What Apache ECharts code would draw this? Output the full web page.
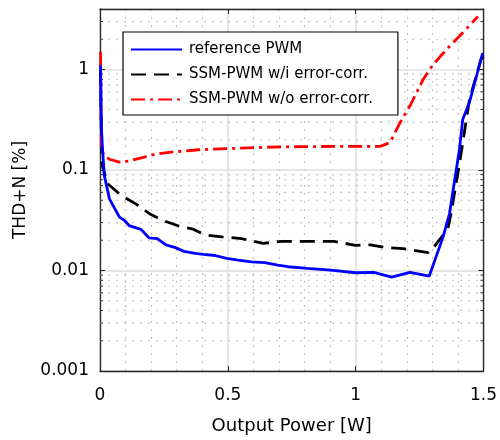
<!DOCTYPE html>
<html>
<head>
<meta charset="utf-8">
<script src="https://cdn.jsdelivr.net/npm/echarts@6/dist/echarts.min.js"></script>
<style>
  html, body { margin: 0; padding: 0; background: #fff; }
  #chart { width: 500px; height: 440px; }
</style>
</head>
<body>
<div id="chart"></div>
<script>
// 图例名称
const seriesNames = ['reference PWM', 'SSM-PWM w/i error-corr.', 'SSM-PWM w/o error-corr.'];

// reference PWM（蓝色实线）
const refPower = [0.002, 0.004, 0.006, 0.01, 0.017, 0.037, 0.076, 0.095, 0.114, 0.16, 0.192, 0.224, 0.258,
  0.295, 0.328, 0.373, 0.405, 0.45, 0.495, 0.541, 0.592, 0.644, 0.696, 0.735, 0.812, 0.902, 0.999,
  1.071, 1.141, 1.212, 1.288, 1.342, 1.367, 1.406, 1.419, 1.445, 1.497];
const refThd = [1.1, 0.4, 0.25, 0.16, 0.088, 0.0516, 0.034, 0.0316, 0.028, 0.0257, 0.0211, 0.0208, 0.018,
  0.0169, 0.0155, 0.0148, 0.0145, 0.0141, 0.0132, 0.0127, 0.0122, 0.012, 0.0113, 0.0109, 0.0105, 0.0101, 0.0095,
  0.0096, 0.0086, 0.0096, 0.0088, 0.0216, 0.0367, 0.161, 0.32, 0.47, 1.46];

// SSM-PWM w/i error-corr.（黑色虚线）
const withPower = [0.002, 0.005, 0.009, 0.03, 0.082, 0.14, 0.192, 0.244, 0.308, 0.36, 0.412, 0.476, 0.553,
  0.638, 0.709, 0.812, 0.916, 0.999, 1.057, 1.122, 1.186, 1.284, 1.31, 1.361, 1.373, 1.406, 1.445, 1.49, 1.5];
const withThd = [1.0, 0.24, 0.11, 0.073, 0.056, 0.046, 0.037, 0.0316, 0.0277, 0.026, 0.0226, 0.0216, 0.0208,
  0.0186, 0.0195, 0.0195, 0.0195, 0.0178, 0.018, 0.0169, 0.0165, 0.0151, 0.0176, 0.0262, 0.0367, 0.115, 0.5, 1.26, 1.35];

// SSM-PWM w/o error-corr.（红色点划线）
const withoutPower = [0.002, 0.004, 0.005, 0.015, 0.037, 0.076, 0.114, 0.166, 0.218, 0.27, 0.386, 0.541, 0.709,
  0.928, 1.096, 1.135, 1.174, 1.212, 1.264, 1.303, 1.355, 1.406, 1.478];
const withoutThd = [1.5, 0.35, 0.17, 0.14, 0.128, 0.12, 0.123, 0.133, 0.144, 0.15, 0.159, 0.165, 0.17,
  0.172, 0.172, 0.188, 0.297, 0.433, 0.796, 1.12, 1.58, 2.14, 3.37];

// 坐标轴刻度
const xTickLabels = ['0', '0.5', '1', '1.5'];
const yMinorValues = [0.002, 0.003, 0.004, 0.005, 0.006, 0.007, 0.008, 0.009,
  0.02, 0.03, 0.04, 0.05, 0.06, 0.07, 0.08, 0.09,
  0.2, 0.3, 0.4, 0.5, 0.6, 0.7, 0.8, 0.9, 2, 3];

const zip = (xs, ys) => xs.map((x, i) => [x, ys[i]]);
const FONT = 'DejaVu Sans';
const AXIS_COLOR = '#262626';

const chart = echarts.init(document.getElementById('chart'), null, { renderer: 'canvas' });

const isDecade = v => {
  const l = Math.log10(v);
  return Math.abs(l - Math.round(l)) < 1e-6;
};

const option = {
  backgroundColor: '#ffffff',
  animation: false,
  textStyle: { fontFamily: FONT },
  grid: { left: 100, right: 13, top: 9, bottom: 68 },
  legend: {
    orient: 'vertical',
    left: 123,
    top: 32,
    padding: [10, 25, 8, 7],
    itemWidth: 51,
    itemHeight: 14,
    itemGap: 10,
    backgroundColor: '#ffffff',
    borderColor: '#000000',
    borderWidth: 1.2,
    borderRadius: 0,
    itemStyle: { opacity: 0 },
    textStyle: { fontFamily: FONT, fontSize: 15, color: '#000', padding: [0, 0, 0, 2] },
    data: seriesNames
  },
  xAxis: [
    {
      type: 'value',
      min: 0, max: 1.5, interval: 0.5,
      name: 'Output Power [W]',
      nameLocation: 'middle',
      nameGap: 46,
      nameTextStyle: { fontFamily: FONT, fontSize: 18, color: '#000' },
      axisLine: { show: true, onZero: false, lineStyle: { color: AXIS_COLOR, width: 1.3 } },
      axisTick: { show: true, inside: true, length: 5, lineStyle: { color: AXIS_COLOR } },
      axisLabel: {
        margin: 16, fontFamily: FONT, fontSize: 17, color: '#000',
        formatter: (v) => xTickLabels.find(t => Math.abs(+t - v) < 1e-9) || ''
      },
      splitLine: { show: true, lineStyle: { color: '#dedede', width: 1.5 } },
      minorTick: { show: false, splitNumber: 5 },
      minorSplitLine: { show: true, lineStyle: { color: '#c4c4c4', width: 1.2, type: [2, 6] } }
    },
    {
      type: 'value', position: 'top',
      min: 0, max: 1.5, interval: 0.5,
      axisLine: { show: true, onZero: false, lineStyle: { color: AXIS_COLOR, width: 1.3 } },
      axisTick: { show: true, inside: true, length: 5, lineStyle: { color: AXIS_COLOR } },
      axisLabel: { show: false },
      splitLine: { show: false }
    }
  ],
  yAxis: [
    {
      type: 'log', logBase: 10,
      min: 0.001, max: 4,
      name: 'THD+N [%]',
      nameLocation: 'middle',
      nameGap: 64,
      nameTextStyle: { fontFamily: FONT, fontSize: 17, color: '#000' },
      axisLine: { show: true, onZero: false, lineStyle: { color: AXIS_COLOR, width: 1.3 } },
      axisTick: { show: true, inside: true, length: 5, lineStyle: { color: AXIS_COLOR } },
      axisLabel: {
        margin: 11, fontFamily: FONT, fontSize: 17, color: '#000',
        formatter: (v) => isDecade(v) ? String(+(+v).toPrecision(1)) : ''
      },
      splitLine: { show: true, lineStyle: { color: '#dedede', width: 1.5 } }
    },
    {
      type: 'log', logBase: 10, position: 'right',
      min: 0.001, max: 4,
      axisLine: { show: true, onZero: false, lineStyle: { color: AXIS_COLOR, width: 1.3 } },
      axisTick: { show: true, inside: true, length: 5, lineStyle: { color: AXIS_COLOR } },
      axisLabel: { show: false },
      splitLine: { show: false }
    }
  ],
  series: [
    {
      // 对数轴次网格线（点线）与次刻度
      type: 'custom',
      silent: true,
      z: 1,
      data: yMinorValues.map(v => [0, v]),
      renderItem: (params, api) => {
        const v = api.value(1);
        const p0 = api.coord([0, v]);
        const p1 = api.coord([1.5, v]);
        return {
          type: 'group',
          children: [
            {
              type: 'line',
              shape: { x1: p0[0], y1: p0[1], x2: p1[0], y2: p1[1] },
              style: { stroke: '#c4c4c4', lineWidth: 1.2, lineDash: [2, 6] }
            },
            {
              type: 'line',
              shape: { x1: p0[0], y1: p0[1], x2: p0[0] + 3, y2: p0[1] },
              style: { stroke: AXIS_COLOR, lineWidth: 1 }
            },
            {
              type: 'line',
              shape: { x1: p1[0] - 3, y1: p1[1], x2: p1[0], y2: p1[1] },
              style: { stroke: AXIS_COLOR, lineWidth: 1 }
            }
          ]
        };
      }
    },
    {
      name: seriesNames[0],
      type: 'line',
      z: 4,
      data: zip(refPower, refThd),
      showSymbol: false,
      symbol: 'none',
      lineStyle: { color: '#0000ff', width: 2.8 },
      itemStyle: { color: '#0000ff' }
    },
    {
      name: seriesNames[1],
      type: 'line',
      z: 3,
      data: zip(withPower, withThd),
      showSymbol: false,
      symbol: 'none',
      lineStyle: { color: '#000000', width: 2.8, type: [15, 8] },
      itemStyle: { color: '#000000' }
    },
    {
      name: seriesNames[2],
      type: 'line',
      z: 3,
      data: zip(withoutPower, withoutThd),
      showSymbol: false,
      symbol: 'none',
      lineStyle: { color: '#ff0000', width: 2.8, type: [14, 5, 3, 5] },
      itemStyle: { color: '#ff0000' }
    }
  ]
};

chart.setOption(option);
</script>
</body>
</html>
